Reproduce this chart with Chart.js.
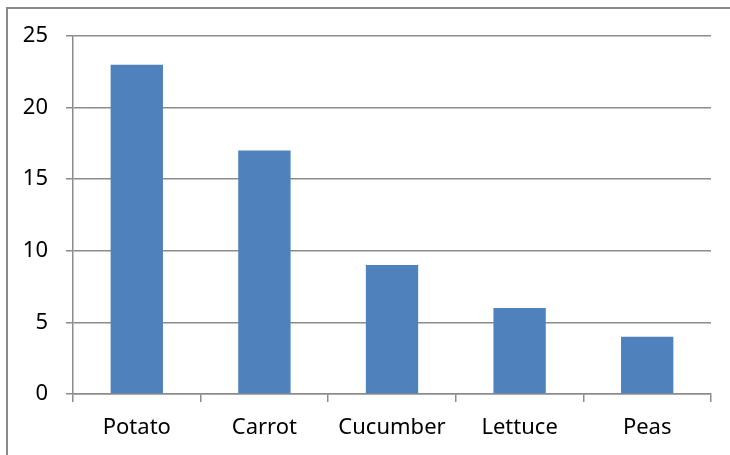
<!DOCTYPE html>
<html>
<head>
<meta charset="utf-8">
<script src="https://cdn.jsdelivr.net/npm/chart.js@4/dist/chart.umd.min.js"></script>
<style>
    html, body { margin: 0; padding: 0; background: #fff; overflow: hidden; }
    #wrap { position: absolute; left: 0; top: 0; width: 730px; height: 455px; }
    #frame { position: absolute; left: 6px; top: 7px; width: 740px; height: 470px; border: 2px solid #8a8a8a; box-sizing: border-box; }
    canvas { position: absolute; left: 0; top: 0; }
</style>
</head>
<body>
<div id="wrap">
    <div id="frame"></div>
    <canvas id="chart" width="730" height="455"></canvas>
</div>
<script>
const categories = ['Potato', 'Carrot', 'Cucumber', 'Lettuce', 'Peas'];
const values = [23, 17, 9, 6, 4];
const yTicks = [0, 5, 10, 15, 20, 25];

const gridColor = '#8c8c8c';
const fontSpec = { family: 'Noto Sans', size: 22 };

const config = {
    type: 'bar',
    data: {
        labels: categories,
        datasets: [
            {
                data: values,
                backgroundColor: '#4f81bd',
                borderWidth: 0,
                barPercentage: 0.41,
                categoryPercentage: 1
            }
        ]
    },
    options: {
        responsive: false,
        animation: false,
        layout: {
            padding: { left: 0, top: 36, right: 19, bottom: 0 }
        },
        plugins: {
            legend: { display: false },
            tooltip: { enabled: false }
        },
        scales: {
            x: {
                grid: {
                    offset: true,
                    drawOnChartArea: false,
                    tickLength: 8,
                    color: gridColor,
                    lineWidth: 1.5
                },
                border: { color: gridColor, width: 1.5 },
                ticks: { color: '#000', font: fontSpec, padding: 13 },
                afterFit: (scale) => { scale.height = 61; }
            },
            y: {
                min: 0,
                max: 25,
                afterBuildTicks: (scale) => { scale.ticks = yTicks.map(v => ({ value: v })); },
                grid: {
                    tickLength: 7,
                    color: gridColor,
                    lineWidth: 1.5
                },
                border: { color: gridColor, width: 1.5 },
                ticks: { color: '#000', font: fontSpec, padding: 18 },
                afterFit: (scale) => { scale.width = 73; }
            }
        }
    }
};
const chart = new Chart(document.getElementById('chart'), config);
</script>
</body>
</html>
